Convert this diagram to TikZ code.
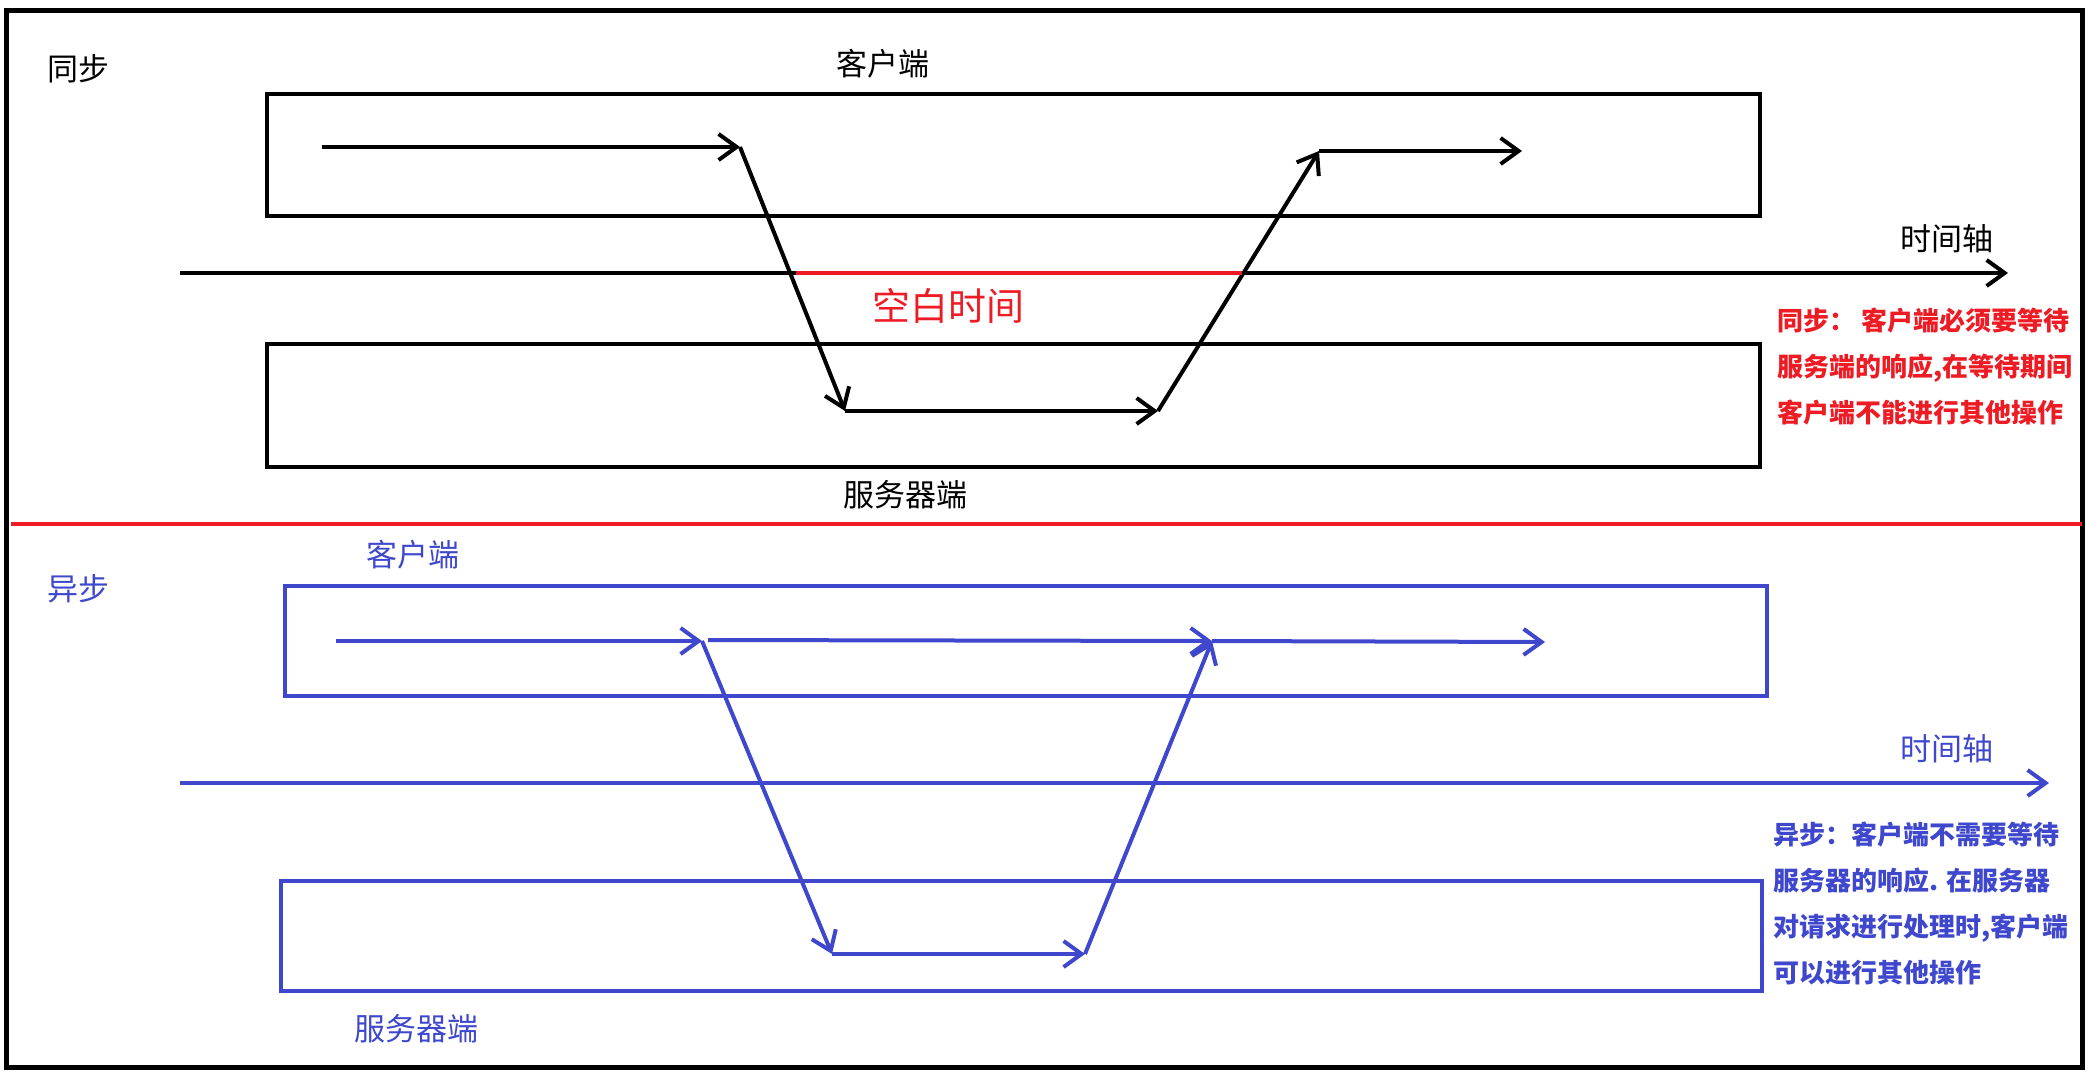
\documentclass[tikz,border=0pt]{standalone}
\usepackage{fontspec}
\setmainfont{Noto Sans CJK SC}
\usetikzlibrary{arrows.meta}
\definecolor{paintred}{RGB}{237,28,36}
\definecolor{paintblue}{RGB}{63,72,204}
\tikzset{
  lbl/.style={font=\fontsize{31}{36}\selectfont},
  note/.style={anchor=west,align=left,font=\fontsize{26}{46}\selectfont\bfseries},
  box/.style={line width=4.5pt},
  arr/.style={line width=4pt,-{Straight Barb[length=18pt,width=26pt]}},
}
\begin{document}
\begin{tikzpicture}[x=1pt,y=-1pt]
    \useasboundingbox (0,0) rectangle (2098,1082);
    \draw[line width=5pt] (6,10) rectangle (2082,1067);

    % sync
    \node[lbl] (synctitle) at (78,69) {同步};
    \node[lbl] (syncclient) at (883,64) {客户端};
    \node[lbl] (syncserver) at (905,495) {服务器端};
    \node[lbl] (syncaxis) at (1947,239) {时间轴};
    \node[lbl,text=paintred,font=\fontsize{38}{44}\selectfont] (idle) at (948,306) {空白时间};

    \draw[box] (267,94) rectangle (1760,216);
    \draw[box] (267,344) rectangle (1760,467);

    \coordinate (s0) at (322,147);
    \coordinate (s1) at (740,147);
    \coordinate (s2) at (845,411);
    \coordinate (s3) at (1158,411);
    \coordinate (s4) at (1319,151);
    \coordinate (s5) at (1522,151);
    \draw[arr] (s0) -- (s1);
    \draw[arr] (s1) -- (s2);
    \draw[arr] (s2) -- (s3);
    \draw[arr] (s3) -- (s4);
    \draw[arr] (s4) -- (s5);

    \coordinate (ta) at (180,273);
    \coordinate (tb) at (2008,273);
    \coordinate (wa) at (796,273);
    \coordinate (wb) at (1242,273);
    \draw[arr] (ta) -- (tb);
    \draw[line width=4pt,paintred] (wa) -- (wb);

    \node[note,text=paintred] (syncnote) at (1774,367)
      {同步：\ 客户端必须要等待\\服务端的响应,在等待期间\\客户端不能进行其他操作};

    \draw[line width=4pt,paintred] (11,524) -- (2082,524);

    % async
    \begin{scope}[paintblue]
    \node[lbl,text=paintblue] (asynctitle) at (78,589) {异步};
    \node[lbl,text=paintblue] (asyncclient) at (413,555) {客户端};
    \node[lbl,text=paintblue] (asyncserver) at (416,1029) {服务器端};
    \node[lbl,text=paintblue] (asyncaxis) at (1947,749) {时间轴};

    \draw[box] (285,586) rectangle (1767,696);
    \draw[box] (281,881) rectangle (1762,991);

    \coordinate (a0) at (336,641);
    \coordinate (a1) at (702,641);
    \coordinate (a1b) at (708,640);
    \coordinate (a2) at (832,954);
    \coordinate (a3) at (1085,954);
    \coordinate (a4) at (1212,641);
    \coordinate (a5) at (1545,642);
    \draw[arr] (a0) -- (a1);
    \draw[arr] (a1b) -- (a4);
    \draw[arr] (a4) -- (a5);
    \draw[arr] (a1) -- (a2);
    \draw[arr] (a2) -- (a3);
    \draw[arr] (a3) -- (a4);

    \coordinate (ua) at (180,783);
    \coordinate (ub) at (2049,783);
    \draw[arr] (ua) -- (ub);

    \node[note,text=paintblue] (asyncnote) at (1770,903)
      {异步：客户端不需要等待\\服务器的响应. 在服务器\\对请求进行处理时,客户端\\可以进行其他操作};
    \end{scope}
\end{tikzpicture}
\end{document}
